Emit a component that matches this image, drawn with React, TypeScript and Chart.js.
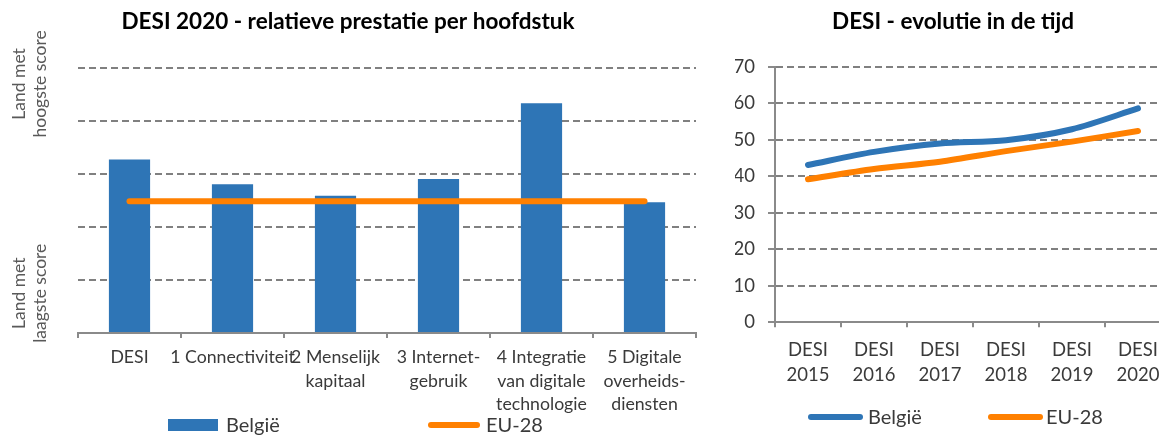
import React, { useEffect, useRef } from "react";
import { Chart, registerables } from "chart.js";

Chart.register(...registerables);

// ---------- data ----------
const chapterLabels: string[][] = [
  ["DESI"],
  ["1 Connectiviteit"],
  ["2 Menselijk", "kapitaal"],
  ["3 Internet-", "gebruik"],
  ["4 Integratie", "van digitale", "technologie"],
  ["5 Digitale", "overheids-", "diensten"],
];
const belgiumChapters = [65.5, 56.1, 51.8, 58.1, 86.7, 49.3];
const eu28Chapters = [49.7, 49.7, 49.7, 49.7, 49.7, 49.7];

const yearLabels: string[][] = [
  ["DESI", "2015"],
  ["DESI", "2016"],
  ["DESI", "2017"],
  ["DESI", "2018"],
  ["DESI", "2019"],
  ["DESI", "2020"],
];
const belgiumYears = [43.1, 46.7, 49.0, 49.9, 52.9, 58.6];
const eu28Years = [39.2, 42.0, 44.0, 46.9, 49.5, 52.4];

const sideLabelTop = ["Land met", "hoogste score"];
const sideLabelBottom = ["Land met", "laagste score"];

const leftTitle = "DESI 2020 - relatieve prestatie per hoofdstuk";
const rightTitle = "DESI - evolutie in de tijd";
const seriesBelgium = "België";
const seriesEU = "EU-28";

// ---------- styles ----------
const FONT = "Lato, 'Open Sans', sans-serif";
const BLUE = "#2E75B6";
const ORANGE = "#FF8000";
const GRID = "#808080";
const AXIS = "#8A8A8A";
const TEXT = "#3A3A3A";

const manualLegend = {
  id: "manualLegend",
  afterDraw(chart: any, _args: any, opts: any) {
    if (!opts || !opts.xs) return;
    const { ctx } = chart;
    ctx.save();
    ctx.font = opts.font;
    ctx.textBaseline = "middle";
    ctx.textAlign = "left";
    chart.data.datasets.forEach((ds: any, i: number) => {
      const x = opts.xs[i];
      const tx = opts.textXs[i];
      const y = opts.y;
      const isBar = ds.type === "bar" || (!ds.type && chart.config.type === "bar");
      if (isBar) {
        ctx.fillStyle = ds.backgroundColor;
        ctx.fillRect(x, y - opts.boxH / 2, opts.boxW, opts.boxH);
      } else {
        ctx.strokeStyle = ds.borderColor;
        ctx.lineWidth = opts.lineW;
        ctx.lineCap = "round";
        ctx.beginPath();
        ctx.moveTo(x + 3, y);
        ctx.lineTo(x + opts.lineLen - 3, y);
        ctx.stroke();
      }
      ctx.fillStyle = opts.color;
      ctx.fillText(ds.label, tx, y + 1);
    });
    ctx.restore();
  },
};

const sideLabels = {
  id: "sideLabels",
  afterDraw(chart: any, _args: any, opts: any) {
    if (!opts || !opts.groups) return;
    const { ctx } = chart;
    const yScale = chart.scales.y;
    ctx.save();
    ctx.font = opts.font;
    ctx.fillStyle = opts.color;
    ctx.textAlign = "center";
    ctx.textBaseline = "middle";
    opts.groups.forEach((g: any) => {
      const cy = yScale.getPixelForValue(g.value);
      g.lines.forEach((line: string, j: number) => {
        ctx.save();
        ctx.translate(opts.xs[j], cy);
        ctx.rotate(-Math.PI / 2);
        ctx.fillText(line, 0, 0);
        ctx.restore();
      });
    });
    ctx.restore();
  },
};

export default function App() {
  const leftRef = useRef<HTMLCanvasElement | null>(null);
  const rightRef = useRef<HTMLCanvasElement | null>(null);

  useEffect(() => {
    document.body.style.margin = "0";
    const left = new Chart(leftRef.current as HTMLCanvasElement, {
      type: "bar",
      data: {
        labels: chapterLabels,
        datasets: [
          {
            type: "bar",
            label: seriesBelgium,
            data: belgiumChapters,
            backgroundColor: BLUE,
            borderWidth: 0,
            barPercentage: 0.4,
            categoryPercentage: 1,
            order: 1,
          } as any,
          {
            type: "line",
            label: seriesEU,
            data: eu28Chapters,
            borderColor: ORANGE,
            backgroundColor: ORANGE,
            borderWidth: 6,
            borderCapStyle: "round",
            pointRadius: 0,
            order: 0,
          } as any,
        ],
      },
      options: {
        responsive: false,
        animation: false,
        layout: { padding: { left: 0, right: 4, top: 0, bottom: 2 } },
        plugins: {
          legend: { display: false },
          tooltip: { enabled: false },
          title: {
            display: true,
            text: leftTitle,
            color: "#000",
            font: { family: FONT, size: 22.5, weight: "bold", lineHeight: 1.2 },
            padding: { top: 8.5, bottom: 32.5 },
          },
          manualLegend: {
            xs: [168, 428],
            textXs: [226, 486],
            y: 425,
            boxW: 50,
            boxH: 12,
            lineLen: 52,
            lineW: 6,
            font: `20px ${FONT}`,
            color: TEXT,
          },
          sideLabels: {
            groups: [
              { lines: sideLabelTop, value: 94 },
              { lines: sideLabelBottom, value: 15 },
            ],
            xs: [19, 40],
            font: `17.5px ${FONT}`,
            color: "#595959",
          },
        } as any,
        scales: {
          x: {
            offset: true,
            grid: {
              display: true,
              drawOnChartArea: false,
              drawTicks: true,
              tickLength: 5,
              color: AXIS,
              lineWidth: 2,
              offset: true,
            },
            border: { display: true, color: AXIS, width: 2 },
            ticks: {
              autoSkip: false,
              maxRotation: 0,
              minRotation: 0,
              padding: 7,
              color: TEXT,
              font: { family: FONT, size: 17.7, lineHeight: 1.35 },
            },
            afterFit: (s: any) => {
              s.height = 100;
            },
          },
          y: {
            min: 0,
            max: 100,
            ticks: { display: false, stepSize: 20 },
            grid: { color: GRID, lineWidth: 2, drawTicks: false },
            border: { display: false, dash: [7, 4] },
            afterFit: (s: any) => {
              s.width = 78;
            },
          },
        },
      },
      plugins: [manualLegend, sideLabels],
    } as any);

    const right = new Chart(rightRef.current as HTMLCanvasElement, {
      type: "line",
      data: {
        labels: yearLabels,
        datasets: [
          {
            label: seriesBelgium,
            data: belgiumYears,
            borderColor: BLUE,
            backgroundColor: BLUE,
            borderWidth: 6,
            borderCapStyle: "round",
            pointRadius: 0,
            tension: 0.3,
          },
          {
            label: seriesEU,
            data: eu28Years,
            borderColor: ORANGE,
            backgroundColor: ORANGE,
            borderWidth: 6,
            borderCapStyle: "round",
            pointRadius: 0,
            tension: 0.3,
          },
        ],
      },
      options: {
        responsive: false,
        animation: false,
        layout: { padding: { left: 0, right: 0, top: 0, bottom: 47.7 } },
        plugins: {
          legend: { display: false },
          tooltip: { enabled: false },
          title: {
            display: true,
            text: rightTitle,
            color: "#000",
            font: { family: FONT, size: 22.5, weight: "bold", lineHeight: 1.2 },
            padding: { top: 8.5, bottom: 31.3 },
          },
          manualLegend: {
            xs: [73, 253],
            textXs: [133, 311],
            y: 417,
            boxW: 50,
            boxH: 12,
            lineLen: 55,
            lineW: 6,
            font: `20px ${FONT}`,
            color: TEXT,
          },
        } as any,
        scales: {
          x: {
            offset: true,
            grid: {
              display: true,
              drawOnChartArea: false,
              drawTicks: true,
              tickLength: 5,
              color: AXIS,
              lineWidth: 2,
              offset: true,
            },
            border: { display: true, color: AXIS, width: 2 },
            ticks: {
              autoSkip: false,
              maxRotation: 0,
              minRotation: 0,
              padding: 10,
              color: TEXT,
              font: { family: FONT, size: 18.5, lineHeight: 1.35 },
            },
            afterFit: (s: any) => {
              s.height = 65;
            },
          },
          y: {
            min: 0,
            max: 70,
            ticks: {
              stepSize: 10,
              padding: 13,
              color: TEXT,
              font: { family: FONT, size: 18.5 },
            },
            grid: {
              color: GRID,
              lineWidth: 2,
              drawTicks: true,
              tickLength: 7,
              tickColor: AXIS,
              tickWidth: 2,
            },
            border: { display: true, color: AXIS, width: 2, dash: [7, 4] },
            afterFit: (s: any) => {
              s.width = 40;
            },
          },
        },
      },
      plugins: [manualLegend],
    } as any);

    return () => {
      left.destroy();
      right.destroy();
    };
  }, []);

  return (
    <div
      style={{
        position: "fixed",
        left: 0,
        top: 0,
        width: 1159,
        height: 435,
        overflow: "hidden",
        background: "#fff",
      }}
    >
      <canvas
        ref={leftRef}
        width={700}
        height={435}
        style={{ position: "absolute", left: 0, top: 0, display: "block" }}
      />
      <canvas
        ref={rightRef}
        width={436}
        height={435}
        style={{ position: "absolute", left: 735, top: 0, display: "block" }}
      />
    </div>
  );
}
